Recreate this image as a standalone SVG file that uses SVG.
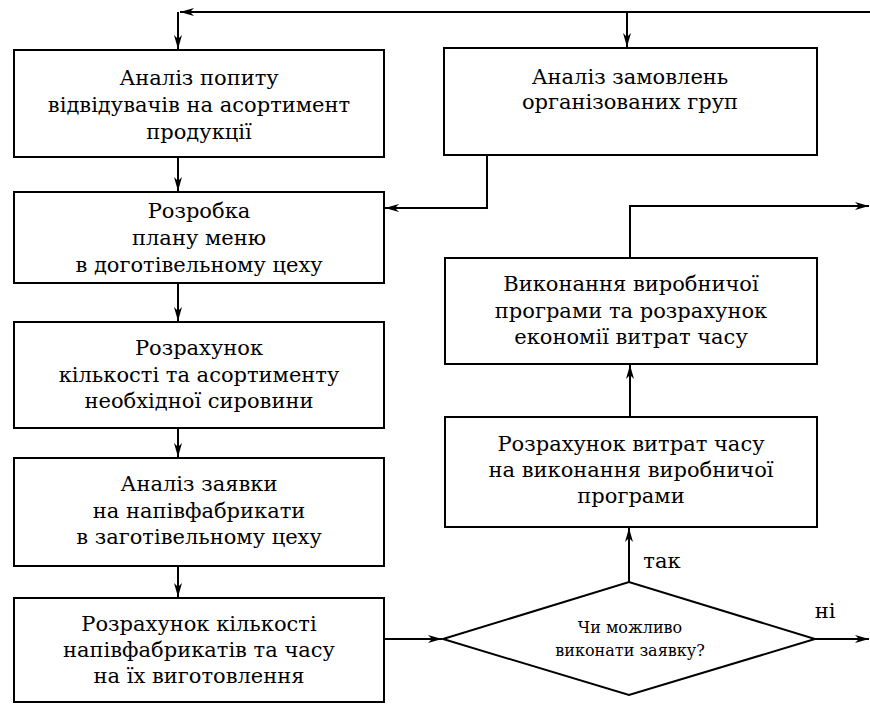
<svg xmlns="http://www.w3.org/2000/svg" width="870" height="706" viewBox="0 0 870 706">
<defs>
<marker id="ah" viewBox="0 0 14 8" refX="14" refY="4" markerWidth="14" markerHeight="8" markerUnits="userSpaceOnUse" orient="auto">
<path d="M0,0 L14,4 L0,8 L4,4 Z" fill="#000"/>
</marker>
</defs>
<rect width="870" height="706" fill="#fff"/>
<g id="connectors" fill="none" stroke="#000" stroke-width="2">
<path d="M870,12 L180,12" marker-end="url(#ah)"/>
<path d="M178,12 L178,49" marker-end="url(#ah)"/>
<path d="M627,12 L627,47" marker-end="url(#ah)"/>
<path d="M178,157 L178,191" marker-end="url(#ah)"/>
<path d="M487,155 L487,208 L385,208" marker-end="url(#ah)"/>
<path d="M178,283 L178,321" marker-end="url(#ah)"/>
<path d="M178,428 L178,457" marker-end="url(#ah)"/>
<path d="M178,566 L178,597" marker-end="url(#ah)"/>
<path d="M384,639 L442,639" marker-end="url(#ah)"/>
<path d="M629,582 L629,528" marker-end="url(#ah)"/>
<path d="M630,417 L630,365" marker-end="url(#ah)"/>
<path d="M630,258 L630,206 L869,206" marker-end="url(#ah)"/>
<path d="M815,639 L869,639" marker-end="url(#ah)"/>
</g>
<g id="n1">
<rect x="14" y="50" width="370" height="107" fill="#fff" stroke="#000" stroke-width="2"/>
<text font-family="DejaVu Serif, Liberation Serif, serif" font-size="21" text-anchor="middle" x="199" y="85">Аналіз попиту</text>
<text font-family="DejaVu Serif, Liberation Serif, serif" font-size="21" text-anchor="middle" x="199" y="112">відвідувачів на асортимент</text>
<text font-family="DejaVu Serif, Liberation Serif, serif" font-size="21" text-anchor="middle" x="199" y="139">продукції</text>
</g>
<g id="n2">
<rect x="444" y="48" width="373" height="107" fill="#fff" stroke="#000" stroke-width="2"/>
<text font-family="DejaVu Serif, Liberation Serif, serif" font-size="21" text-anchor="middle" x="630" y="84">Аналіз замовлень</text>
<text font-family="DejaVu Serif, Liberation Serif, serif" font-size="21" text-anchor="middle" x="630" y="109">організованих груп</text>
</g>
<g id="n3">
<rect x="14" y="192" width="370" height="91" fill="#fff" stroke="#000" stroke-width="2"/>
<text font-family="DejaVu Serif, Liberation Serif, serif" font-size="21" text-anchor="middle" x="199" y="218">Розробка</text>
<text font-family="DejaVu Serif, Liberation Serif, serif" font-size="21" text-anchor="middle" x="199" y="245">плану меню</text>
<text font-family="DejaVu Serif, Liberation Serif, serif" font-size="21" text-anchor="middle" x="199" y="272">в доготівельному цеху</text>
</g>
<g id="n4">
<rect x="14" y="322" width="370" height="106" fill="#fff" stroke="#000" stroke-width="2"/>
<text font-family="DejaVu Serif, Liberation Serif, serif" font-size="21" text-anchor="middle" x="199" y="355">Розрахунок</text>
<text font-family="DejaVu Serif, Liberation Serif, serif" font-size="21" text-anchor="middle" x="199" y="382">кількості та асортименту</text>
<text font-family="DejaVu Serif, Liberation Serif, serif" font-size="21" text-anchor="middle" x="199" y="408">необхідної сировини</text>
</g>
<g id="n5">
<rect x="14" y="458" width="370" height="108" fill="#fff" stroke="#000" stroke-width="2"/>
<text font-family="DejaVu Serif, Liberation Serif, serif" font-size="21" text-anchor="middle" x="199" y="491">Аналіз заявки</text>
<text font-family="DejaVu Serif, Liberation Serif, serif" font-size="21" text-anchor="middle" x="199" y="518">на напівфабрикати</text>
<text font-family="DejaVu Serif, Liberation Serif, serif" font-size="21" text-anchor="middle" x="199" y="544">в заготівельному цеху</text>
</g>
<g id="n6">
<rect x="14" y="598" width="370" height="104" fill="#fff" stroke="#000" stroke-width="2"/>
<text font-family="DejaVu Serif, Liberation Serif, serif" font-size="21" text-anchor="middle" x="199" y="631">Розрахунок кількості</text>
<text font-family="DejaVu Serif, Liberation Serif, serif" font-size="21" text-anchor="middle" x="199" y="657">напівфабрикатів та часу</text>
<text font-family="DejaVu Serif, Liberation Serif, serif" font-size="21" text-anchor="middle" x="199" y="683">на їх виготовлення</text>
</g>
<g id="n7">
<rect x="445" y="258" width="372" height="106" fill="#fff" stroke="#000" stroke-width="2"/>
<text font-family="DejaVu Serif, Liberation Serif, serif" font-size="21" text-anchor="middle" x="631" y="291">Виконання виробничої</text>
<text font-family="DejaVu Serif, Liberation Serif, serif" font-size="21" text-anchor="middle" x="631" y="318">програми та розрахунок</text>
<text font-family="DejaVu Serif, Liberation Serif, serif" font-size="21" text-anchor="middle" x="631" y="344">економії витрат часу</text>
</g>
<g id="n8">
<rect x="445" y="417" width="372" height="110" fill="#fff" stroke="#000" stroke-width="2"/>
<text font-family="DejaVu Serif, Liberation Serif, serif" font-size="21" text-anchor="middle" x="631" y="451">Розрахунок витрат часу</text>
<text font-family="DejaVu Serif, Liberation Serif, serif" font-size="21" text-anchor="middle" x="631" y="477">на виконання виробничої</text>
<text font-family="DejaVu Serif, Liberation Serif, serif" font-size="21" text-anchor="middle" x="631" y="503">програми</text>
</g>
<g id="n9">
<path d="M443,639 L629,582 L815,639 L629,695 Z" fill="#fff" stroke="#000" stroke-width="2"/>
<text font-family="DejaVu Serif, Liberation Serif, serif" font-size="16" text-anchor="middle" x="630" y="633">Чи можливо</text>
<text font-family="DejaVu Serif, Liberation Serif, serif" font-size="16" text-anchor="middle" x="630" y="656">виконати заявку?</text>
</g>
<g id="labels">
<text font-family="DejaVu Serif, Liberation Serif, serif" font-size="21" text-anchor="middle" x="662" y="568">так</text>
<text font-family="DejaVu Serif, Liberation Serif, serif" font-size="21" text-anchor="middle" x="825" y="618">ні</text>
</g>
</svg>
